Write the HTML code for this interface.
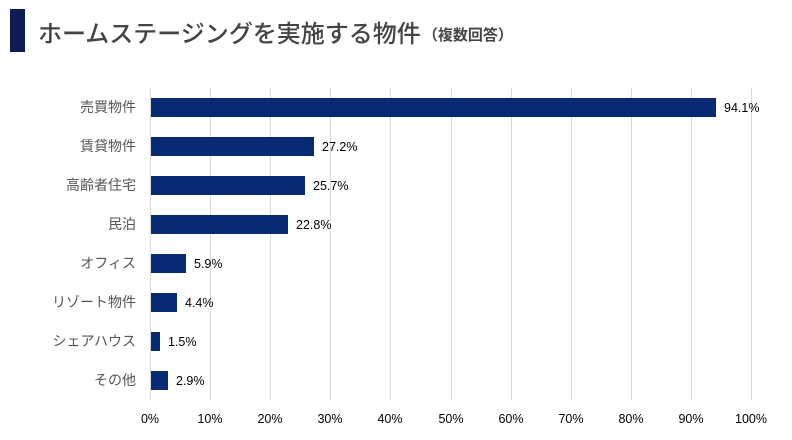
<!DOCTYPE html>
<html><head><meta charset="utf-8"><style>
body{margin:0;background:#fff;width:792px;height:440px;overflow:hidden}
svg{display:block}
text{font-family:"Liberation Sans","Noto Sans CJK JP",sans-serif}
</style></head><body>
<svg width="792" height="440" viewBox="0 0 792 440">
<rect x="10" y="9" width="15" height="43" fill="#0b1d52"/>
<text x="38" y="42" font-size="24" font-weight="500" fill="#444">ホームステージングを実施する物件<tspan font-size="15" font-weight="bold" dx="2" dy="-2">（複数回答）</tspan></text>
<g stroke="#d9d9d9" stroke-width="1">
<line x1="150.5" y1="88" x2="150.5" y2="400"/>
<line x1="210.5" y1="88" x2="210.5" y2="400"/>
<line x1="270.5" y1="88" x2="270.5" y2="400"/>
<line x1="330.5" y1="88" x2="330.5" y2="400"/>
<line x1="390.5" y1="88" x2="390.5" y2="400"/>
<line x1="451.5" y1="88" x2="451.5" y2="400"/>
<line x1="511.5" y1="88" x2="511.5" y2="400"/>
<line x1="571.5" y1="88" x2="571.5" y2="400"/>
<line x1="631.5" y1="88" x2="631.5" y2="400"/>
<line x1="691.5" y1="88" x2="691.5" y2="400"/>
<line x1="751.5" y1="88" x2="751.5" y2="400"/>
</g>
<g fill="#062a73">
<rect x="151" y="98" width="565" height="19"/>
<rect x="151" y="137" width="163" height="19"/>
<rect x="151" y="176" width="154" height="19"/>
<rect x="151" y="215" width="137" height="19"/>
<rect x="151" y="254" width="35" height="19"/>
<rect x="151" y="293" width="26" height="19"/>
<rect x="151" y="332" width="9" height="19"/>
<rect x="151" y="371" width="17" height="19"/>
</g>
<g font-size="14" fill="#555" text-anchor="end">
<text x="136" y="112">売買物件</text>
<text x="136" y="151">賃貸物件</text>
<text x="136" y="190">高齢者住宅</text>
<text x="136" y="229">民泊</text>
<text x="136" y="268">オフィス</text>
<text x="136" y="307">リゾート物件</text>
<text x="136" y="346">シェアハウス</text>
<text x="136" y="385">その他</text>
</g>
<g font-size="12.5" fill="#000">
<text x="724" y="112">94.1%</text>
<text x="322" y="151">27.2%</text>
<text x="313" y="190">25.7%</text>
<text x="296" y="229">22.8%</text>
<text x="194" y="268">5.9%</text>
<text x="185" y="307">4.4%</text>
<text x="168" y="346">1.5%</text>
<text x="176" y="385">2.9%</text>
</g>
<g font-size="12.5" fill="#000" text-anchor="middle">
<text x="150" y="423">0%</text>
<text x="210" y="423">10%</text>
<text x="270" y="423">20%</text>
<text x="330" y="423">30%</text>
<text x="390" y="423">40%</text>
<text x="451" y="423">50%</text>
<text x="511" y="423">60%</text>
<text x="571" y="423">70%</text>
<text x="631" y="423">80%</text>
<text x="691" y="423">90%</text>
<text x="751" y="423">100%</text>
</g>
</svg>
</body></html>
